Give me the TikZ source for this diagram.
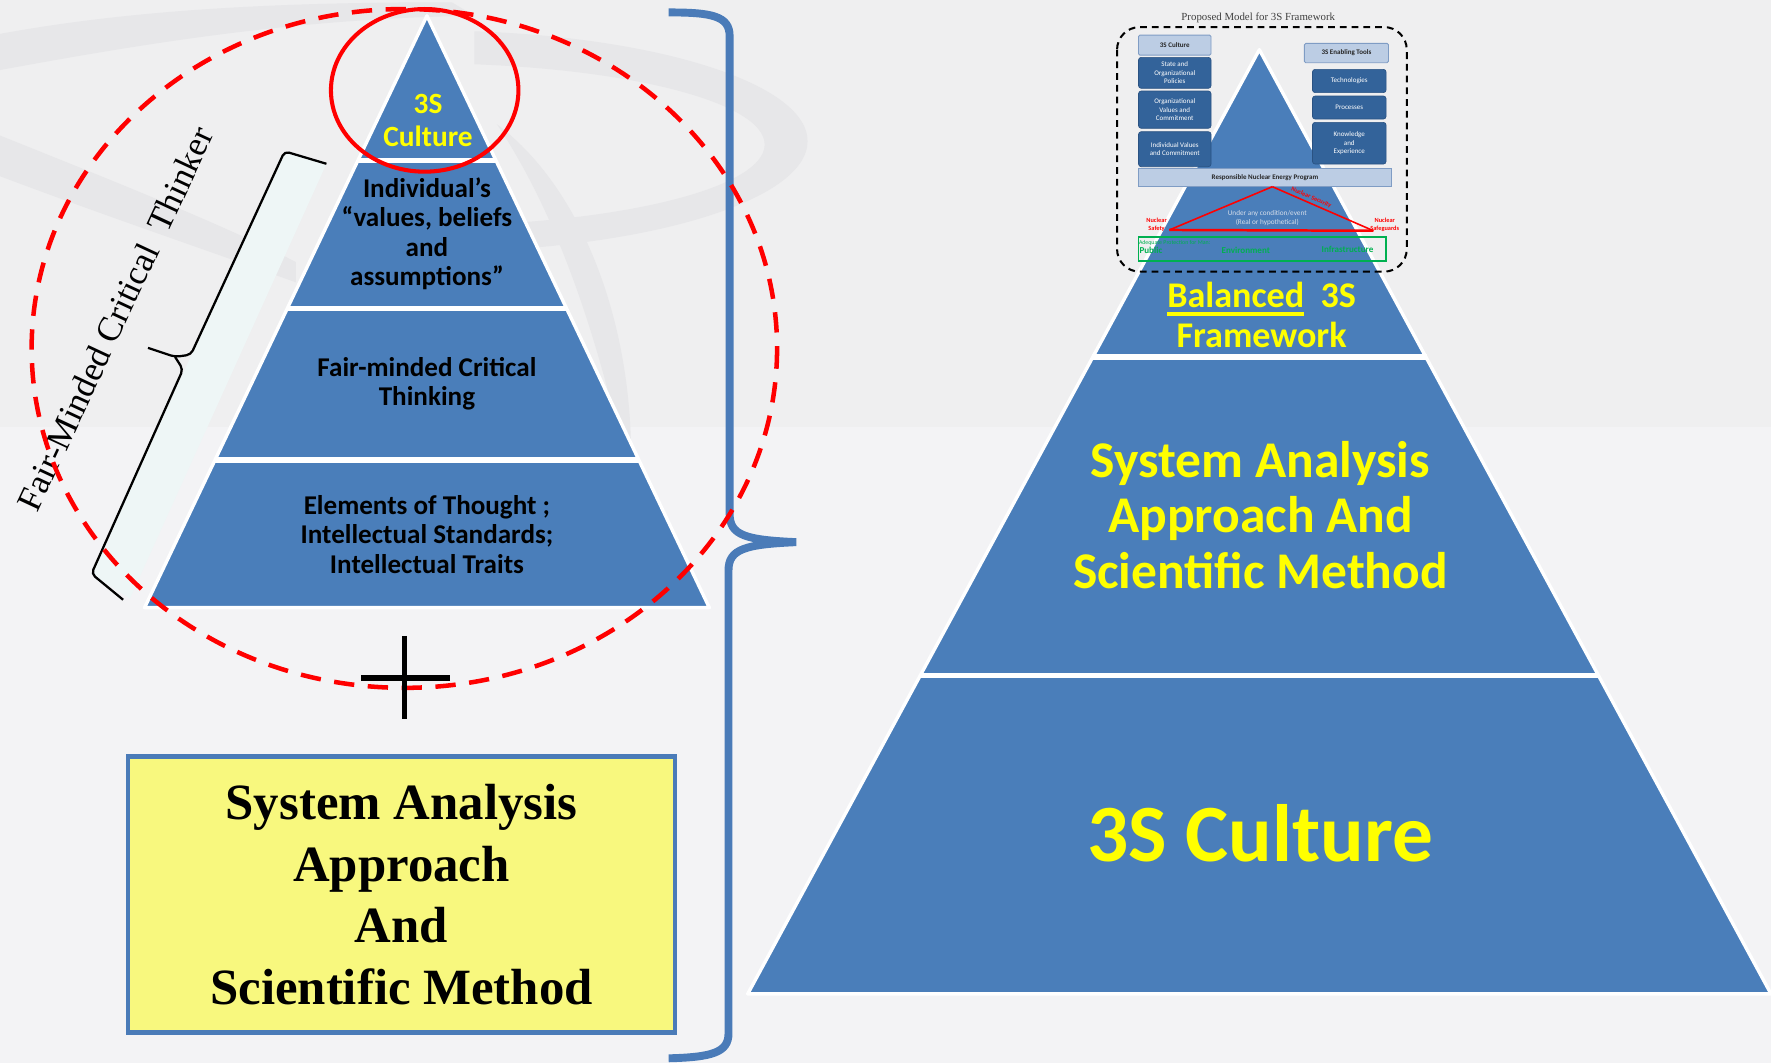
\documentclass[tikz,border=0pt]{standalone}
\usepackage{fontspec}
\setmainfont{Carlito}
\newfontfamily\tnr{Liberation Serif}
\newcommand\thickul[1]{\setbox0\hbox{#1}\rlap{\rule[-3.8pt]{\wd0}{1.5pt}}\box0}
\definecolor{bgbot}{HTML}{F3F3F5}
\definecolor{bgtop}{HTML}{EFEFF0}
\definecolor{swirl}{HTML}{E7E7E9}
\definecolor{pblue}{HTML}{4A7EBA}
\definecolor{bblue}{HTML}{4A7BB8}
\definecolor{ylw}{HTML}{FFFF00}
\definecolor{boxy}{HTML}{F8F87E}
\definecolor{band}{HTML}{EEF6F6}
\definecolor{dkbox}{HTML}{33639A}
\definecolor{dkedge}{HTML}{2A5282}
\definecolor{ltbox}{HTML}{BCCDE4}
\definecolor{ltedge}{HTML}{7F9CC4}
\definecolor{gr}{HTML}{00B050}
\definecolor{condtxt}{HTML}{D6DEEA}
\tikzset{
  tier/.style={fill=pblue, draw=white, line width=1.5pt, line join=round},
  sepline/.style={white, line width=2.5pt},
  ltxtb/.style={align=center, inner sep=0pt, text=black, font=\bfseries\fontsize{12}{13}\selectfont},
  dk/.style={draw=dkedge, fill=dkbox, rounded corners=1.2pt, line width=0.3pt, text=white, align=center, inner sep=0pt, font=\fontsize{3.1}{3.8}\selectfont},
  lt/.style={draw=ltedge, fill=ltbox, rounded corners=0.6pt, line width=0.4pt, text=black!85, align=center, inner sep=0pt, font=\bfseries\fontsize{3.1}{3.8}\selectfont},
  redlab/.style={text=red, align=center, inner sep=0pt, font=\bfseries\fontsize{2.8}{3.2}\selectfont},
  grlab/.style={text=gr, inner sep=0pt, font=\bfseries\fontsize{4}{4.5}\selectfont},
}
\begin{document}
\begin{tikzpicture}[x=0.5pt,y=-0.5pt]
\useasboundingbox (0,0) rectangle (1568,941);
% background
\fill[bgbot] (0,0) rectangle (1568,941);
\fill[bgtop] (0,0) rectangle (1568,378);
% watermark swirls
\begin{scope}
  \clip (420,0) rectangle (760,260);
  \fill[swirl, even odd rule] (380,125) ellipse [x radius=335, y radius=98] (372,128) ellipse [x radius=305, y radius=72];
\end{scope}
\fill[swirl] (0,30) .. controls (120,8) and (250,2) .. (400,2) -- (420,14) .. controls (260,16) and (120,40) .. (0,62) -- cycle;
\fill[swirl] (0,120) .. controls (100,160) and (200,200) .. (262,232) -- (262,250) .. controls (190,224) and (90,190) .. (0,156) -- cycle;
\fill[swirl] (440,110) .. controls (520,170) and (565,300) .. (558,430) .. controls (535,320) and (500,200) .. (440,110) -- cycle;

% ---------- left pyramid ----------
\path[tier] (378,14) -- (628,538) -- (128,538) -- cycle;
\draw[sepline] (317,142) -- (439,142);
\draw[sepline] (254,273) -- (502,273);
\draw[sepline] (190,407) -- (566,407);

% pale band and black brace
\fill[band] (252,134) -- (289,145) -- (115,530) -- (81,508) -- cycle;
\draw[black, line width=1pt, rounded corners=2pt] (289,145) -- (252,134) -- (169,314) -- (155,316) -- (131,308);
\draw[black, line width=1pt, rounded corners=2pt] (155,316) -- (162,327) -- (81,508) -- (109,531);
\node[rotate=65, inner sep=0pt, font=\tnr\fontsize{15.5}{16}\selectfont] (fmct) at (102,282) {Fair-Minded Critical\ \ Thinker};

% blue brace
\draw[bblue, line width=3.5pt] (592,11) .. controls (630,11) and (646,14) .. (646,32) -- (646,455) .. controls (646,474) and (660,478) .. (705,480) .. controls (660,482) and (645,486) .. (645,505) -- (645,915) .. controls (645,932) and (630,936) .. (592,937);

% red ellipses
\draw[red, line width=2pt, dash pattern=on 9pt off 6pt] (358,308.5) ellipse [x radius=330, y radius=300.5];
\draw[red, line width=1.8pt] (376,80) ellipse [x radius=83, y radius=72];

% left texts
\node[align=center, inner sep=0pt, text=ylw, font=\bfseries\fontsize{13}{14.5}\selectfont] (top3s) at (379,107) {3S\\Culture};
\node[ltxtb] (indiv) at (378,207) {Individual’s\\“values, beliefs\\and\\assumptions”};
\node[ltxtb] (fmth) at (378,340) {Fair-minded Critical\\Thinking};
\node[ltxtb] (elem) at (378,473) {Elements of Thought ;\\Intellectual Standards;\\Intellectual Traits};

% plus sign
\draw[black, line width=2.5pt] (320,600) -- (398,600);
\draw[black, line width=2.5pt] (358,563) -- (358,637);

% yellow box
\node[draw=bblue, line width=2pt, fill=boxy, minimum width=242pt, minimum height=122pt, align=center, inner sep=0pt, font=\tnr\bfseries\fontsize{22.5}{27.3}\selectfont] (sabox) at (355.5,792) {System Analysis\\Approach\\And\\Scientific Method};

% ---------- right pyramid ----------
\path[tier] (1115,44) -- (1568,880) -- (662,880) -- cycle;
\draw[sepline] (967,316) -- (1263,316);
\draw[sepline] (815,598) -- (1415,598);

\node[align=center, inner sep=0pt, text=ylw, font=\bfseries\fontsize{16}{17.7}\selectfont] (bal) at (1117,278.5) {\thickul{Balanced}\ \ 3S\\Framework};
\node[align=center, inner sep=0pt, text=ylw, font=\bfseries\fontsize{22.8}{24.5}\selectfont] (sys) at (1116,456) {System Analysis\\Approach And\\Scientific Method};
\node[align=center, inner sep=0pt, text=ylw, font=\bfseries\fontsize{36}{40}\selectfont] (cult) at (1116,738) {3S Culture};

% ---------- inset ----------
\node[inner sep=0pt, text=black!75, font=\tnr\fontsize{4.8}{5}\selectfont] (ptitle) at (1114,16) {Proposed Model for 3S Framework};
\draw[black, line width=0.9pt, dash pattern=on 3pt off 2.2pt, rounded corners=10pt] (989,24) rectangle (1245.5,240.5);

\node[lt, minimum width=32.1pt, minimum height=8.85pt] (c3s) at (1040.1,39.9) {3S Culture};
\node[dk, minimum width=32.1pt, minimum height=13.7pt] (pol) at (1040.1,64.5) {State and\\Organizational\\Policies};
\node[dk, minimum width=32.1pt, minimum height=16.5pt] (ovc) at (1040.1,97.1) {Organizational\\Values and\\Commitment};
\node[dk, minimum width=32.1pt, minimum height=15.5pt] (ivc) at (1040.1,132.1) {Individual Values\\and Commitment};

\node[lt, minimum width=37.2pt, minimum height=8.55pt] (etools) at (1192.1,47) {3S Enabling Tools};
\node[dk, minimum width=32.6pt, minimum height=10.3pt] (tech) at (1194.6,71.7) {Technologies};
\node[dk, minimum width=32.6pt, minimum height=10.2pt] (proc) at (1194.6,95.2) {Processes};
\node[dk, minimum width=32.6pt, minimum height=18.45pt] (kne) at (1194.6,126.8) {Knowledge\\and\\Experience};

\node[lt, rounded corners=0pt, minimum width=112.2pt, minimum height=8.15pt] (rnep) at (1120,157.2) {Responsible Nuclear Energy Program};

\coordinate (ta) at (1126.5,165.3);
\coordinate (tr) at (1216,204.3);
\coordinate (tl) at (1035.3,203.6);
\draw[red, line width=0.7pt] (ta) -- (tr);
\draw[red, line width=0.7pt] (ta) -- (tl);
\draw[red, line width=1.1pt] (tl) -- (tr);
\node[redlab] (rl) at (1024,199) {Nuclear\\Safety};
\node[redlab, rotate=-23.5] (rs) at (1161,175) {Nuclear Security};
\node[redlab] (rr) at (1226,199) {Nuclear\\Safeguards};
\node[align=center, inner sep=0pt, text=condtxt, font=\fontsize{3.2}{4}\selectfont] (cond) at (1122,193) {Under any condition/event\\(Real or hypothetical)};

\draw[gr, line width=0.8pt] (1008,210.1) rectangle (1227.2,230.8);
\node[inner sep=0pt, text=gr, font=\fontsize{2.6}{3}\selectfont] (adeq) at (1040,215.4) {Adequate Protection for Man:};
\node[grlab] (pub) at (1019,221.5) {Public};
\node[grlab] (env) at (1103,221.5) {Environment};
\node[grlab] (infra) at (1193,221) {Infrastructure};
\end{tikzpicture}
\end{document}
